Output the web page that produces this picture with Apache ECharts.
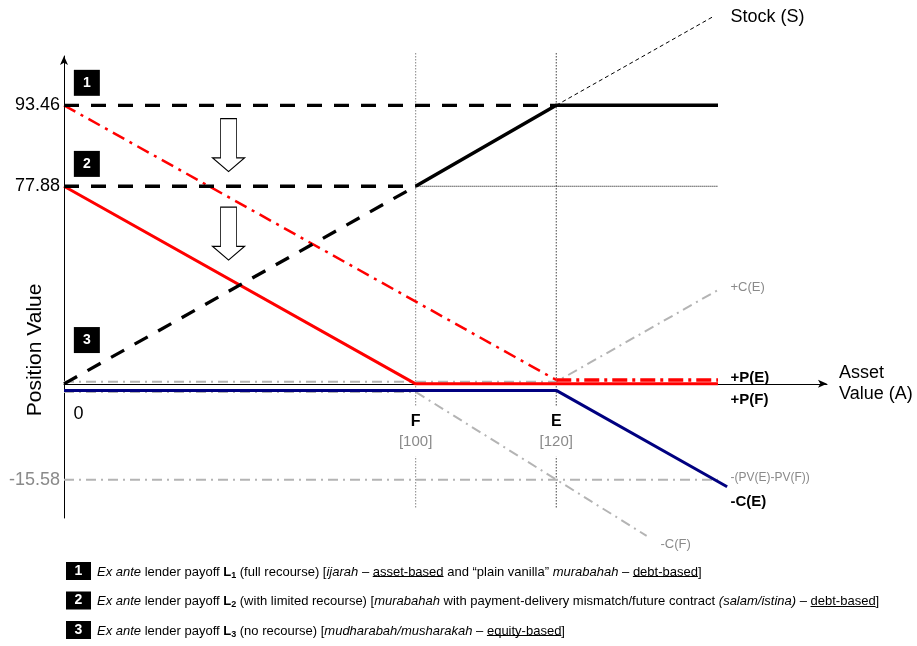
<!DOCTYPE html>
<html><head><meta charset="utf-8">
<script src="https://cdn.jsdelivr.net/npm/echarts@6/dist/echarts.min.js"></script>
<style>html,body{margin:0;padding:0;background:#fff}#c{width:917px;height:646px}</style>
</head><body><div id="c"></div>
<script>
const FONT = '"Liberation Sans", Arial, Helvetica, sans-serif';

// ---- data (schematic diagram units) ----
const xF = 100, xE = 140;                       // F and E positions on the schematic asset axis
const xTickLabels = ['F', 'E'];
const xTickBrackets = ['[100]', '[120]'];
const yTickValues = [93.46, 66.3, -32.2];       // schematic positions of the levels
const yTickLabels = ['93.46', '77.88', '-15.58'];

const lenderL1 = [[0, 93.46], [140, 93.46]];
const lenderL2 = [[0, 66.3], [100, 66.3]];
const lenderL3 = [[0, 0], [100, 66.3]];
const lenderPayoff = [[100, 66.3], [140, 93.46], [186, 93.46]];
const stockS = [[140, 93.46], [184.3, 123]];
const refL2 = [[100, 66.3], [186, 66.3]];
const putE = [[0, 93.46], [140, 1.3], [186, 1.3]];
const putF = [[0, 66.3], [100, 0], [186, 0]];
const callEPlus = [[0, 0.7], [140, 0.7], [186, 31.5]];
const callEMinus = [[0, -2.2], [140, -2.2], [188.6, -34.5]];
const callFMinus = [[0, -2.7], [100, -2.7], [165.7, -51]];
const pvDiff = [[0, -32.2], [186, -32.2]];
const vLineF = [[100, 111], [100, -41.6]];
const vLineE = [[140, 111], [140, -41.6]];
const boxLabels = ['1', '2', '3'];

// ---- helpers ----
function line(data, color, width, type, z) {
  return {
    type: 'line', data: data, symbol: 'none', clip: false, silent: true, z: z || 2,
    lineStyle: { color: color, width: width, type: type, cap: 'butt', opacity: 1 },
    animation: false
  };
}
function ann(x, y, text, label) {
  return { value: [x, y], label: Object.assign({ show: true, formatter: text, fontFamily: FONT, opacity: 1 }, label) };
}
const LEFT = { position: 'right', distance: 0 };
const GRAY = '#8a8a8a';
const LGRAY = '#b4b4b4';
const DASH = [15, 12];
const DASHDOT = [13, 6, 3, 6];
const GDASHDOT = [10, 5, 2, 5];

const annotations = [
  ann(189.4, 123.1, 'Stock (S)', Object.assign({ fontSize: 18, color: '#000' }, LEFT)),
  ann(189.4, 32.5, '+C(E)', Object.assign({ fontSize: 13, color: GRAY }, LEFT)),
  ann(189.4, 2.1, '+P(E)', Object.assign({ fontSize: 15, fontWeight: 'bold', color: '#000' }, LEFT)),
  ann(189.4, -5.4, '+P(F)', Object.assign({ fontSize: 15, fontWeight: 'bold', color: '#000' }, LEFT)),
  ann(189.4, -31.5, '-(PV(E)-PV(F))', Object.assign({ fontSize: 12, color: GRAY }, LEFT)),
  ann(189.4, -39.5, '-C(E)', Object.assign({ fontSize: 15, fontWeight: 'bold', color: '#000' }, LEFT)),
  ann(169.5, -53.7, '-C(F)', Object.assign({ fontSize: 13, color: GRAY }, LEFT)),
  ann(4.1, -10.1, '0', { position: 'inside', fontSize: 18, color: '#000' }),
  ann(-8.25, 11.4, 'Position Value', { position: 'inside', fontSize: 21, color: '#000', rotate: 90 })
];
[xF, xE].forEach(function (xv, i) {
  annotations.push({
    value: [xv, -16.1],
    label: {
      show: true, position: 'inside', backgroundColor: '#fff', padding: [5, 4], opacity: 1,
      formatter: '{b|' + xTickLabels[i] + '}\n{g|' + xTickBrackets[i] + '}',
      rich: {
        b: { fontFamily: FONT, fontSize: 16, fontWeight: 'bold', color: '#000', lineHeight: 20 },
        g: { fontFamily: FONT, fontSize: 15, color: GRAY, lineHeight: 20 }
      }
    }
  });
});

const arrowPath = 'path://M25,0 L75,0 L75,74 L100,74 L50,100 L0,74 L25,74 Z';

const option = {
  backgroundColor: '#fff',
  animation: false,
  grid: { left: 64, right: 90, top: 56, bottom: 128, containLabel: false },
  xAxis: {
    type: 'value', min: 0, max: 217,
    axisLine: { show: true, onZero: true, symbol: ['none', 'arrow'], symbolSize: [6, 9], lineStyle: { color: '#000', width: 1 } },
    axisTick: { show: false }, axisLabel: { show: false }, splitLine: { show: false },
    name: 'Asset\nValue (A)', nameLocation: 'end', nameGap: 12,
    nameTextStyle: { fontFamily: FONT, fontSize: 18, lineHeight: 21, color: '#000', align: 'left', verticalAlign: 'middle', padding: [8, 0, 0, 0] }
  },
  yAxis: {
    type: 'value', min: -45, max: 110,
    axisLine: { show: true, onZero: false, symbol: ['none', 'arrow'], symbolSize: [6, 9], lineStyle: { color: '#000', width: 1 } },
    axisTick: { show: false }, splitLine: { show: false },
    axisLabel: {
      show: true, customValues: yTickValues, margin: 4,
      formatter: function (v) {
        const i = yTickValues.indexOf(Number(v));
        const t = i >= 0 ? yTickLabels[i] : '';
        return (Number(v) < 0 ? '{g|' : '{k|') + t + '}';
      },
      rich: {
        k: { fontFamily: FONT, fontSize: 18, color: '#000' },
        g: { fontFamily: FONT, fontSize: 18, color: GRAY }
      }
    }
  },
  series: [
    line(vLineF, '#9a9a9a', 1.2, [1.5, 1.5], 1),
    line(vLineE, '#444', 1, [1.5, 1.5], 1),
    line(pvDiff, LGRAY, 2, GDASHDOT),
    line(callFMinus, LGRAY, 2, GDASHDOT),
    line(callEPlus, LGRAY, 2, GDASHDOT),
    line(refL2, '#000', 1, [1, 1]),
    line(stockS, '#000', 1, [4, 3]),
    line(putF, '#ff0000', 3, 'solid', 3),
    line(putE.slice(0, 2), '#ff0000', 2.5, DASHDOT, 3),
    line(putE.slice(1), '#ff0000', 3.3, [15, 5, 3, 5], 3),
    line(callEMinus, '#000080', 3, 'solid', 3),
    line(lenderL1, '#000', 3.3, DASH, 4),
    line(lenderL2, '#000', 3.3, DASH, 4),
    line(lenderL3, '#000', 3.3, DASH, 4),
    line(lenderPayoff, '#000', 3.5, 'solid', 4),
    {
      type: 'scatter', clip: false, silent: true, z: 6, symbol: 'rect', symbolSize: 26,
      itemStyle: { color: '#000', opacity: 1 },
      data: [[6.5, 101], [6.5, 73.8], [6.5, 14.7]].map(function (p, i) {
        return { value: p, label: { show: true, position: 'inside', formatter: boxLabels[i], color: '#fff', fontWeight: 'bold', fontSize: 14, fontFamily: FONT, opacity: 1 } };
      })
    },
    {
      type: 'scatter', clip: false, silent: true, z: 6, symbol: arrowPath, symbolSize: [32, 53], symbolKeepAspect: false,
      itemStyle: { color: '#fff', borderColor: '#000', borderWidth: 1, opacity: 1 },
      data: [[46.8, 80.1], [46.8, 50.4]]
    },
    {
      type: 'scatter', clip: false, silent: true, z: 7, symbolSize: 1,
      itemStyle: { color: 'rgba(0,0,0,0)', opacity: 1 },
      data: annotations
    }
  ]
};

// ---- bottom key (legend) ----
function underline() {
  return {
    type: 'linear', x: 0, y: 0, x2: 0, y2: 1,
    colorStops: [
      { offset: 0, color: 'rgba(0,0,0,0)' }, { offset: 0.84, color: 'rgba(0,0,0,0)' },
      { offset: 0.84, color: '#000' }, { offset: 0.9, color: '#000' },
      { offset: 0.9, color: 'rgba(0,0,0,0)' }, { offset: 1, color: 'rgba(0,0,0,0)' }
    ]
  };
}
const FS = 13;
function keyRich() {
  return {
    n: { fontFamily: FONT, fontSize: FS, color: '#000', lineHeight: 16 },
    i: { fontFamily: FONT, fontSize: FS, fontStyle: 'italic', color: '#000', lineHeight: 16 },
    b: { fontFamily: FONT, fontSize: FS, fontWeight: 'bold', color: '#000', lineHeight: 16 },
    s: { fontFamily: FONT, fontSize: 9, fontWeight: 'bold', color: '#000', lineHeight: 10, verticalAlign: 'bottom' },
    u1: { fontFamily: FONT, fontSize: FS, color: '#000', lineHeight: 16, backgroundColor: underline() },
    u2: { fontFamily: FONT, fontSize: FS, color: '#000', lineHeight: 16, backgroundColor: underline() }
  };
}
const keyRows = [
  '{i|Ex ante}{n| lender payoff }{b|L}{s|1}{n| (full recourse) [}{i|ijarah}{n| – }{u1|asset-based}{n| and “plain vanilla” }{i|murabahah}{n| – }{u2|debt-based}{n|]}',
  '{i|Ex ante}{n| lender payoff }{b|L}{s|2}{n| (with limited recourse) [}{i|murabahah}{n| with payment-delivery mismatch/future contract }{i|(salam/istina)}{n| – }{u1|debt-based}{n|]}',
  '{i|Ex ante}{n| lender payoff }{b|L}{s|3}{n| (no recourse) [}{i|mudharabah/musharakah}{n| – }{u1|equity-based}{n|]}'
];
const keyY = [571, 600.5, 630];
const graphics = [];
keyRows.forEach(function (txt, i) {
  graphics.push({
    type: 'rect', left: 66, top: keyY[i] - 9, shape: { width: 25, height: 18 }, style: { fill: '#000' }, silent: true
  });
  graphics.push({
    type: 'text', x: 78.5, y: keyY[i], silent: true,
    style: { text: boxLabels[i], fill: '#fff', font: 'bold 14px ' + FONT, align: 'center', verticalAlign: 'middle' }
  });
  graphics.push({
    type: 'text', x: 97, y: keyY[i] + 1, silent: true,
    style: { text: txt, rich: keyRich(), verticalAlign: 'middle', align: 'left' }
  });
});
option.graphic = graphics;

const chart = echarts.init(document.getElementById('c'));
chart.setOption(option);
</script>
</body></html>
